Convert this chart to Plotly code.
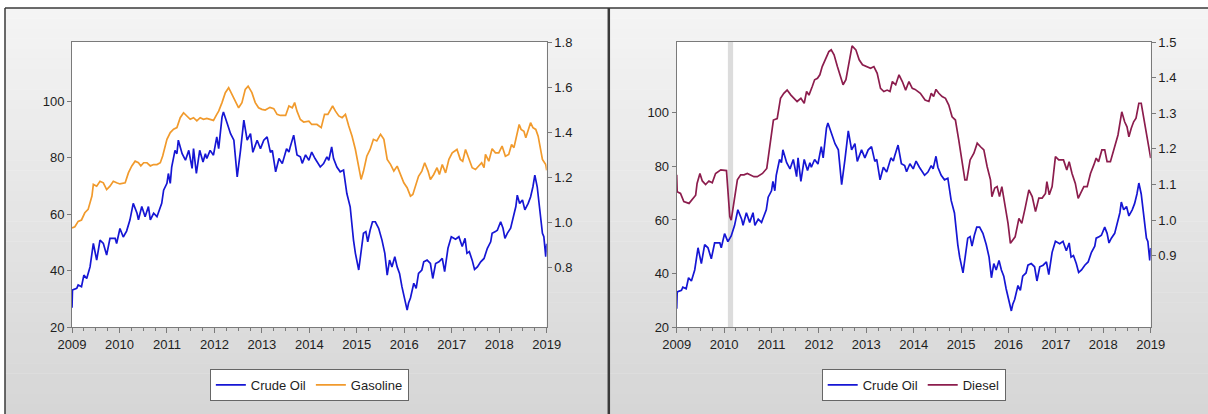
import plotly.graph_objects as go

# ---------------- data ----------------
years = [2009, 2010, 2011, 2012, 2013, 2014, 2015, 2016, 2017, 2018, 2019]

crude_t = [2009.00, 2009.01, 2009.10, 2009.13, 2009.20, 2009.25, 2009.31, 2009.38, 2009.45, 2009.52,
           2009.59, 2009.66, 2009.73, 2009.80, 2009.91, 2009.94, 2010.01, 2010.08, 2010.15, 2010.22,
           2010.29, 2010.37, 2010.40, 2010.47, 2010.54, 2010.61, 2010.65, 2010.72, 2010.79, 2010.86,
           2010.89, 2010.93, 2011.00, 2011.03, 2011.07, 2011.10, 2011.17, 2011.21, 2011.24, 2011.32,
           2011.39, 2011.46, 2011.53, 2011.56, 2011.62, 2011.69, 2011.76, 2011.81, 2011.84, 2011.91,
           2011.98, 2012.05, 2012.09, 2012.16, 2012.19, 2012.27, 2012.34, 2012.41, 2012.48, 2012.55,
           2012.62, 2012.69, 2012.76, 2012.81, 2012.90, 2012.97, 2013.04, 2013.11, 2013.18, 2013.22,
           2013.29, 2013.36, 2013.43, 2013.52, 2013.57, 2013.60, 2013.67, 2013.74, 2013.81, 2013.85,
           2013.92, 2013.99, 2014.05, 2014.12, 2014.23, 2014.30, 2014.37, 2014.41, 2014.47, 2014.51,
           2014.58, 2014.65, 2014.72, 2014.79, 2014.86, 2014.93, 2014.97, 2015.04, 2015.09, 2015.14,
           2015.19, 2015.23, 2015.28, 2015.33, 2015.39, 2015.46, 2015.53, 2015.59, 2015.64, 2015.69,
           2015.74, 2015.80, 2015.85, 2015.90, 2015.95, 2016.02, 2016.06, 2016.09, 2016.13, 2016.20,
           2016.25, 2016.30, 2016.37, 2016.41, 2016.48, 2016.55, 2016.60, 2016.66, 2016.73, 2016.80,
           2016.85, 2016.92, 2016.99, 2017.08, 2017.15, 2017.22, 2017.28, 2017.32, 2017.37, 2017.43,
           2017.48, 2017.54, 2017.61, 2017.68, 2017.75, 2017.82, 2017.85, 2017.92, 2017.96, 2018.03,
           2018.08, 2018.12, 2018.17, 2018.24, 2018.29, 2018.35, 2018.38, 2018.43, 2018.49, 2018.54,
           2018.61, 2018.66, 2018.71, 2018.75, 2018.80, 2018.87, 2018.91, 2018.94, 2018.98, 2019.00]
crude_v = [26.8, 33.1, 33.7, 34.9, 34.3, 38.4, 37.2, 41.3, 49.6, 43.7,
           50.8, 49.6, 45.5, 51.4, 51.4, 49.6, 54.9, 51.9, 54.0, 57.9,
           63.8, 60.3, 58.0, 62.7, 59.1, 62.7, 58.0, 60.3, 59.1, 62.7,
           63.8, 68.5, 70.9, 74.4, 70.9, 76.7, 82.6, 81.4, 86.2, 81.4,
           79.1, 82.6, 76.2, 83.2, 74.4, 82.6, 78.5, 81.4, 79.7, 82.6,
           80.9, 87.4, 83.2, 94.4, 96.2, 92.1, 88.5, 86.2, 73.2, 82.6,
           93.3, 86.2, 88.5, 81.9, 86.2, 83.2, 86.2, 87.4, 81.9, 82.6,
           75.0, 79.7, 77.9, 83.2, 82.0, 84.0, 88.0, 81.0, 80.3, 78.0,
           81.0, 79.1, 82.0, 79.7, 76.7, 77.9, 80.3, 79.1, 83.8, 79.7,
           76.7, 75.0, 75.6, 67.3, 62.6, 50.8, 46.1, 40.2, 46.1, 53.2,
           53.8, 50.2, 54.3, 57.3, 57.3, 55.0, 50.8, 46.1, 38.4, 43.7,
           41.3, 44.9, 41.3, 39.0, 34.3, 29.6, 26.0, 28.5, 30.3, 35.5,
           33.7, 39.0, 40.2, 43.1, 43.7, 42.5, 37.2, 42.5, 43.1, 44.3,
           39.6, 47.9, 52.0, 51.1, 52.0, 48.5, 51.4, 46.1, 46.7, 43.7,
           40.4, 41.3, 43.1, 44.3, 47.9, 50.2, 53.2, 53.8, 54.3, 57.3,
           55.0, 51.4, 53.2, 55.0, 58.5, 62.7, 66.7, 63.8, 65.0, 61.5,
           63.8, 66.1, 69.7, 73.8, 69.7, 60.3, 53.2, 52.0, 44.9, 49.5]

gas_t = [2009.00, 2009.06, 2009.13, 2009.20, 2009.27, 2009.34, 2009.42, 2009.45, 2009.52, 2009.59,
         2009.66, 2009.73, 2009.80, 2009.87, 2009.94, 2010.01, 2010.12, 2010.19, 2010.26, 2010.33,
         2010.40, 2010.45, 2010.51, 2010.58, 2010.65, 2010.72, 2010.79, 2010.86, 2010.91, 2011.00,
         2011.07, 2011.14, 2011.21, 2011.28, 2011.35, 2011.42, 2011.49, 2011.56, 2011.63, 2011.70,
         2011.77, 2011.84, 2011.91, 2011.98, 2012.05, 2012.09, 2012.16, 2012.23, 2012.30, 2012.37,
         2012.44, 2012.51, 2012.58, 2012.65, 2012.71, 2012.79, 2012.86, 2012.93, 2013.00, 2013.07,
         2013.17, 2013.25, 2013.32, 2013.39, 2013.50, 2013.57, 2013.64, 2013.69, 2013.74, 2013.81,
         2013.88, 2013.99, 2014.05, 2014.16, 2014.25, 2014.32, 2014.39, 2014.49, 2014.55, 2014.62,
         2014.69, 2014.76, 2014.83, 2014.90, 2014.97, 2015.04, 2015.09, 2015.14, 2015.21, 2015.28,
         2015.35, 2015.42, 2015.50, 2015.57, 2015.64, 2015.71, 2015.78, 2015.85, 2015.92, 2015.99,
         2016.06, 2016.13, 2016.18, 2016.23, 2016.30, 2016.37, 2016.43, 2016.50, 2016.55, 2016.62,
         2016.69, 2016.74, 2016.80, 2016.87, 2016.94, 2017.01, 2017.11, 2017.18, 2017.23, 2017.29,
         2017.36, 2017.43, 2017.50, 2017.57, 2017.63, 2017.68, 2017.71, 2017.78, 2017.85, 2017.92,
         2017.99, 2018.06, 2018.13, 2018.20, 2018.26, 2018.31, 2018.36, 2018.42, 2018.46, 2018.52,
         2018.56, 2018.61, 2018.66, 2018.71, 2018.77, 2018.82, 2018.87, 2018.91, 2018.98, 2019.00]
gas_v = [0.975, 0.98, 1.004, 1.01, 1.042, 1.057, 1.116, 1.168, 1.16, 1.182,
         1.175, 1.145, 1.16, 1.182, 1.175, 1.17, 1.175, 1.22, 1.25, 1.271,
         1.264, 1.25, 1.264, 1.264, 1.25, 1.256, 1.256, 1.264, 1.294, 1.368,
         1.398, 1.413, 1.42, 1.464, 1.486, 1.472, 1.457, 1.464, 1.45, 1.464,
         1.457, 1.461, 1.457, 1.452, 1.479, 1.493, 1.531, 1.575, 1.597, 1.568,
         1.538, 1.508, 1.531, 1.59, 1.604, 1.575, 1.531, 1.508, 1.501, 1.498,
         1.51, 1.504, 1.479, 1.474, 1.474, 1.516, 1.508, 1.531, 1.493, 1.456,
         1.445, 1.449, 1.434, 1.434, 1.42, 1.479, 1.479, 1.516, 1.493, 1.472,
         1.464, 1.479, 1.427, 1.382, 1.323, 1.249, 1.19, 1.226, 1.293, 1.323,
         1.368, 1.361, 1.39, 1.368, 1.279, 1.257, 1.227, 1.249, 1.212, 1.175,
         1.153, 1.116, 1.123, 1.16, 1.204, 1.227, 1.264, 1.227, 1.19, 1.212,
         1.242, 1.212, 1.256, 1.219, 1.279, 1.308, 1.323, 1.279, 1.271, 1.323,
         1.279, 1.242, 1.234, 1.249, 1.264, 1.242, 1.301, 1.271, 1.326, 1.308,
         1.308, 1.338, 1.293, 1.301, 1.345, 1.331, 1.382, 1.434, 1.412, 1.404,
         1.375, 1.412, 1.442, 1.42, 1.412, 1.382, 1.323, 1.279, 1.256, 1.23]

diesel_t = [2009.00, 2009.01, 2009.08, 2009.15, 2009.26, 2009.33, 2009.40, 2009.43, 2009.49, 2009.54,
            2009.61, 2009.68, 2009.75, 2009.82, 2009.93, 2010.05, 2010.08, 2010.12, 2010.15, 2010.21,
            2010.28, 2010.35, 2010.42, 2010.49, 2010.56, 2010.63, 2010.70, 2010.81, 2010.90, 2010.95,
            2010.98, 2011.04, 2011.12, 2011.19, 2011.26, 2011.33, 2011.41, 2011.47, 2011.54, 2011.62,
            2011.69, 2011.74, 2011.79, 2011.86, 2011.91, 2011.97, 2012.02, 2012.07, 2012.14, 2012.21,
            2012.26, 2012.32, 2012.39, 2012.46, 2012.51, 2012.57, 2012.64, 2012.70, 2012.78, 2012.85,
            2012.92, 2012.99, 2013.09, 2013.16, 2013.23, 2013.30, 2013.37, 2013.44, 2013.50, 2013.55,
            2013.62, 2013.69, 2013.76, 2013.83, 2013.90, 2013.97, 2014.03, 2014.14, 2014.24, 2014.32,
            2014.37, 2014.42, 2014.47, 2014.53, 2014.60, 2014.67, 2014.74, 2014.81, 2014.88, 2014.95,
            2015.02, 2015.08, 2015.12, 2015.19, 2015.27, 2015.34, 2015.41, 2015.48, 2015.55, 2015.62,
            2015.65, 2015.71, 2015.76, 2015.81, 2015.86, 2015.93, 2015.99, 2016.04, 2016.09, 2016.14,
            2016.22, 2016.28, 2016.35, 2016.43, 2016.50, 2016.57, 2016.64, 2016.71, 2016.78, 2016.81,
            2016.86, 2016.92, 2016.99, 2017.06, 2017.16, 2017.23, 2017.28, 2017.34, 2017.41, 2017.47,
            2017.52, 2017.59, 2017.66, 2017.73, 2017.80, 2017.85, 2017.90, 2017.97, 2018.03, 2018.08,
            2018.15, 2018.22, 2018.31, 2018.39, 2018.45, 2018.50, 2018.54, 2018.59, 2018.64, 2018.69,
            2018.75, 2018.80, 2018.86, 2018.93, 2018.98, 2019.00]
diesel_v = [1.127, 1.08, 1.075, 1.052, 1.047, 1.06, 1.07, 1.103, 1.131, 1.11,
            1.1, 1.11, 1.105, 1.131, 1.141, 1.139, 1.085, 1.01, 1.0, 1.056,
            1.113, 1.127, 1.127, 1.131, 1.127, 1.122, 1.122, 1.131, 1.145, 1.197,
            1.215, 1.281, 1.285, 1.342, 1.356, 1.365, 1.351, 1.342, 1.333, 1.342,
            1.328, 1.361, 1.351, 1.375, 1.394, 1.398, 1.408, 1.431, 1.45, 1.473,
            1.478, 1.464, 1.431, 1.398, 1.38, 1.394, 1.45, 1.489, 1.478, 1.45,
            1.436, 1.431, 1.426, 1.431, 1.412, 1.37, 1.361, 1.365, 1.361, 1.389,
            1.38, 1.408, 1.389, 1.365, 1.389, 1.37, 1.367, 1.356, 1.337, 1.333,
            1.356, 1.347, 1.367, 1.356, 1.347, 1.342, 1.323, 1.29, 1.281, 1.225,
            1.169, 1.113, 1.113, 1.169, 1.188, 1.216, 1.206, 1.197, 1.15, 1.113,
            1.066, 1.09, 1.094, 1.066, 1.094, 1.038, 0.991, 0.935, 0.944, 0.953,
            1.005, 0.991, 1.033, 1.085, 1.066, 1.024, 1.062, 1.062, 1.075, 1.108,
            1.071, 1.094, 1.178, 1.169, 1.169, 1.141, 1.164, 1.131, 1.103, 1.061,
            1.075, 1.094, 1.094, 1.131, 1.155, 1.174, 1.164, 1.197, 1.197, 1.164,
            1.164, 1.197, 1.239, 1.304, 1.276, 1.262, 1.234, 1.258, 1.276, 1.286,
            1.328, 1.328, 1.281, 1.225, 1.197, 1.174]

shade_period = [2010.08, 2010.19]

left_ticks = [20, 40, 60, 80, 100]
gas_ticks = [0.8, 1.0, 1.2, 1.4, 1.6, 1.8]
diesel_ticks = [0.9, 1.0, 1.1, 1.2, 1.3, 1.4, 1.5]

# ---------------- styling ----------------
W, H = 1208, 414
CRUDE = "#1616d4"
GAS = "#f19a2c"
DIESEL = "#8c1d4d"
FONT = "Liberation Sans, Arial, sans-serif"
AX = "#7a7a7a"


def px(x):
    return x / W


def py(y):
    return 1 - y / H


ydom = [py(327), py(42)]
xdom1 = [px(72), px(546.7)]
xdom2 = [px(676.7), px(1150.7)]

fig = go.Figure()
fig.add_trace(go.Scatter(x=crude_t, y=crude_v, name="Crude Oil", mode="lines",
                         line=dict(color=CRUDE, width=1.7), xaxis="x", yaxis="y", legend="legend"))
fig.add_trace(go.Scatter(x=gas_t, y=gas_v, name="Gasoline", mode="lines",
                         line=dict(color=GAS, width=1.7), xaxis="x", yaxis="y2", legend="legend"))
fig.add_trace(go.Scatter(x=crude_t, y=crude_v, name="Crude Oil", mode="lines",
                         line=dict(color=CRUDE, width=1.7), xaxis="x2", yaxis="y3", legend="legend2"))
fig.add_trace(go.Scatter(x=diesel_t, y=diesel_v, name="Diesel", mode="lines",
                         line=dict(color=DIESEL, width=1.7), xaxis="x2", yaxis="y4", legend="legend2"))

# background gradient panels
shapes = []
n = 40
top, bot = 8, H
for i in range(n):
    y0 = top + (bot - top) * i / n
    y1 = top + (bot - top) * (i + 1) / n
    f = i / (n - 1)
    c = int(round(244 - f * 30))
    shapes.append(dict(type="rect", xref="paper", yref="paper", x0=px(5), x1=1,
                       y0=py(y1) - 0.001, y1=py(y0), fillcolor=f"rgb({c},{c},{c})",
                       line=dict(width=0), layer="below"))
# white plot areas
for xd in (xdom1, xdom2):
    shapes.append(dict(type="rect", xref="paper", yref="paper", x0=xd[0], x1=xd[1],
                       y0=ydom[0], y1=ydom[1], fillcolor="white", line=dict(width=0), layer="below"))
# panel frames
shapes.append(dict(type="line", xref="paper", yref="paper", x0=px(5), x1=1, y0=py(8), y1=py(8),
                   line=dict(color="#3a3a3a", width=1.5)))
shapes.append(dict(type="line", xref="paper", yref="paper", x0=px(5), x1=px(5), y0=0, y1=py(8),
                   line=dict(color="#3a3a3a", width=1.5)))
shapes.append(dict(type="line", xref="paper", yref="paper", x0=px(608.8), x1=px(608.8), y0=0, y1=py(8),
                   line=dict(color="#3a3a3a", width=2.5)))
# shaded period in right chart
shapes.append(dict(type="rect", xref="x2", yref="y3 domain", x0=shade_period[0], x1=shade_period[1],
                   y0=0, y1=1, fillcolor="#dcdcdc", line=dict(width=0), layer="below"))

tickfont = dict(family=FONT, size=13, color="#1e1e1e")

xcommon = dict(range=[2009, 2019], tickmode="array", tickvals=years, ticktext=[str(y) for y in years],
               ticks="outside", ticklen=5, tickcolor=AX, showline=True, linecolor=AX, linewidth=1,
               mirror=True, showgrid=False, zeroline=False, tickfont=tickfont, automargin=False,
               minor=dict(dtick=0.25, tick0=2009, ticks="outside", ticklen=3, tickcolor=AX, showgrid=False))
ycommon = dict(ticks="outside", ticklen=4, tickcolor=AX, showline=True, linecolor=AX, linewidth=1,
               showgrid=False, zeroline=False, tickfont=tickfont, tickmode="array", automargin=False)

fig.update_layout(
    width=W, height=H, autosize=False,
    margin=dict(l=0, r=0, t=0, b=0, pad=0),
    paper_bgcolor="white", plot_bgcolor="rgba(0,0,0,0)",
    font=dict(family=FONT, size=13, color="#1e1e1e"),
    shapes=shapes,
    xaxis=dict(domain=xdom1, anchor="y", **xcommon),
    xaxis2=dict(domain=xdom2, anchor="y3", **xcommon),
    yaxis=dict(domain=ydom, anchor="x", range=[20, 121], tickvals=left_ticks, **ycommon),
    yaxis2=dict(overlaying="y", anchor="x", side="right", range=[0.535, 1.8], tickvals=gas_ticks,
                tickformat=".1f", **ycommon),
    yaxis3=dict(domain=ydom, anchor="x2", range=[20, 126.5], tickvals=left_ticks, **ycommon),
    yaxis4=dict(overlaying="y3", anchor="x2", side="right", range=[0.7, 1.5], tickvals=diesel_ticks,
                tickformat=".1f", **ycommon),
    legend=dict(orientation="h", x=(xdom1[0] + xdom1[1]) / 2, xanchor="center", y=py(369), yanchor="top",
                bgcolor="white", bordercolor="#666666", borderwidth=1,
                font=dict(family=FONT, size=13, color="#1e1e1e"), itemwidth=30, tracegroupgap=0),
    legend2=dict(orientation="h", x=(xdom2[0] + xdom2[1]) / 2, xanchor="center", y=py(369), yanchor="top",
                 bgcolor="white", bordercolor="#666666", borderwidth=1,
                 font=dict(family=FONT, size=13, color="#1e1e1e"), itemwidth=30, tracegroupgap=0),
    showlegend=True,
)

fig.write_html("out.html", config={"displayModeBar": False},
               post_script="document.body.style.margin='0';document.body.style.padding='0';")
